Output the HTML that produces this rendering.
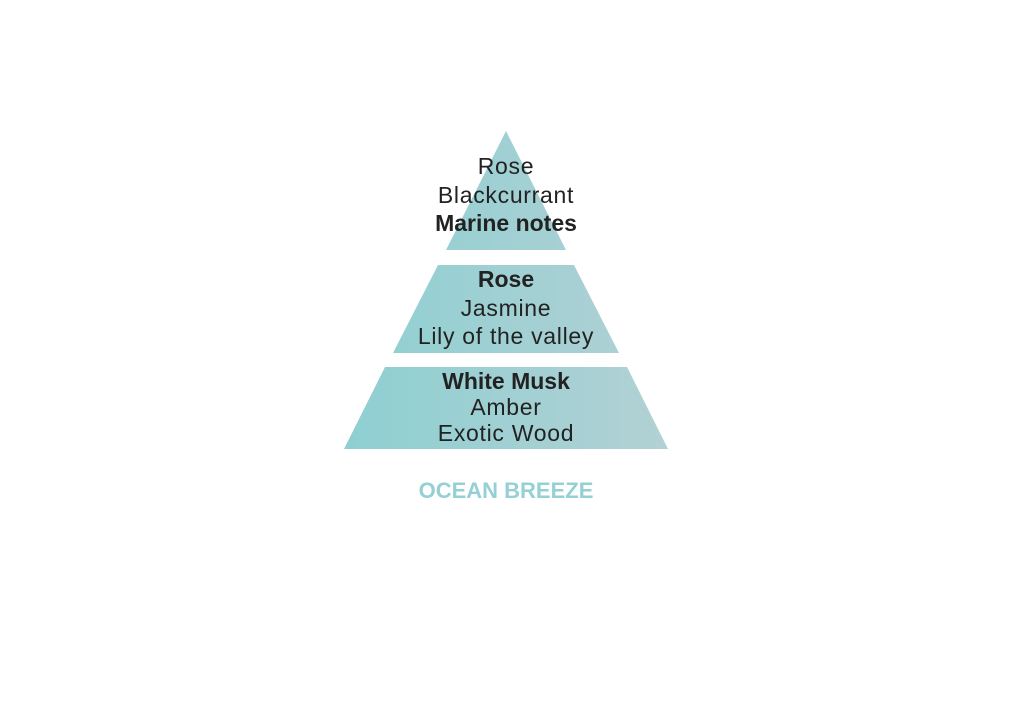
<!DOCTYPE html>
<html><head><style>
body{margin:0;width:1024px;height:722px;background:#fff;overflow:hidden}
svg text{font-family:"Liberation Sans",sans-serif;text-anchor:middle;fill:#222;font-size:23px}
svg text.n{letter-spacing:0.7px}
</style></head><body>
<svg width="1024" height="722" viewBox="0 0 1024 722">
<defs><linearGradient id="g" x1="344" x2="668" gradientUnits="userSpaceOnUse">
<stop offset="0" stop-color="#8ecfd2"/><stop offset="1" stop-color="#b2d1d4"/></linearGradient></defs>
<polygon points="506,131 566,250 446,250" fill="url(#g)"/>
<polygon points="438,265 574,265 619,353 393,353" fill="url(#g)"/>
<polygon points="385,367 627,367 668,449 344,449" fill="url(#g)"/>
<text class="n" x="506" y="174">Rose</text>
<text class="n" x="506" y="203">Blackcurrant</text>
<text x="506" y="231" font-weight="bold">Marine notes</text>
<text x="506" y="287" font-weight="bold">Rose</text>
<text class="n" x="506" y="316">Jasmine</text>
<text class="n" x="506" y="344">Lily of the valley</text>
<text x="506" y="389" font-weight="bold">White Musk</text>
<text class="n" x="506" y="415">Amber</text>
<text class="n" x="506" y="441">Exotic Wood</text>
<text x="506" y="498" font-weight="bold" style="fill:#95d0d5;font-size:22px">OCEAN BREEZE</text>
</svg>
</body></html>
